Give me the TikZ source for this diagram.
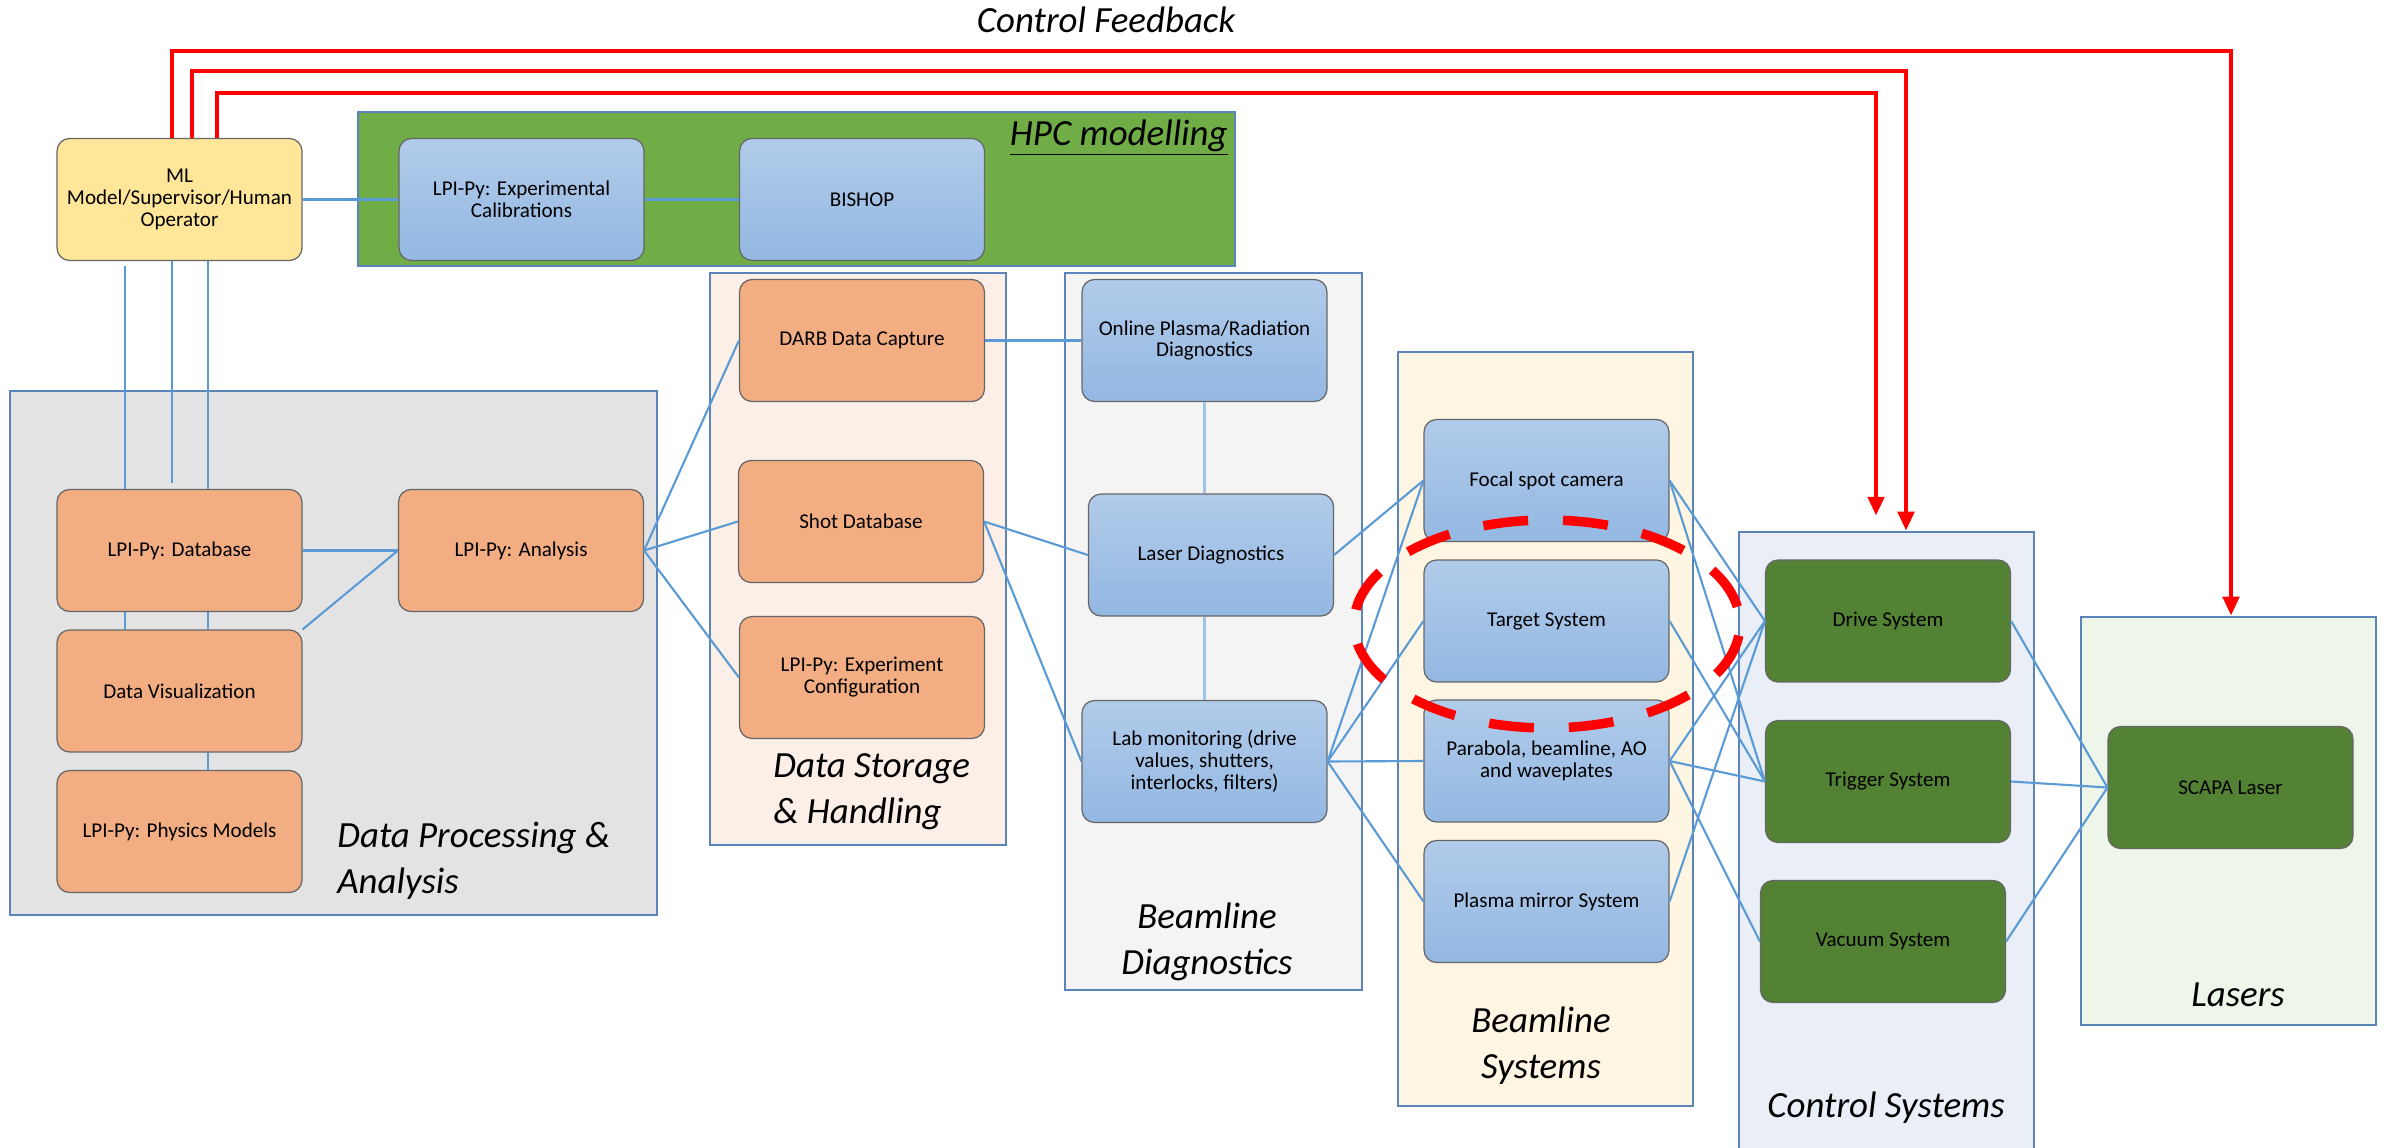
\documentclass[tikz,border=0pt]{standalone}
\usepackage{fontspec}
\setmainfont{Carlito}
\usetikzlibrary{arrows.meta}

\definecolor{linkblue}{HTML}{5B9BD5}
\definecolor{linklight}{HTML}{9DC3E6}
\definecolor{groupline}{HTML}{5A84BA}
\definecolor{fbred}{HTML}{FF0000}
\definecolor{bluetop}{HTML}{B1CBEA}
\definecolor{bluebot}{HTML}{93B8E2}
\definecolor{orangebox}{HTML}{F2AE82}
\definecolor{greenbox}{HTML}{548235}
\definecolor{yellowbox}{HTML}{FFE699}
\definecolor{hpcgreen}{HTML}{70AD47}
\definecolor{dpafill}{HTML}{E3E3E3}
\definecolor{dshfill}{HTML}{FBEFE8}
\definecolor{bdiagfill}{HTML}{F4F4F4}
\definecolor{bsysfill}{HTML}{FEF5E3}
\definecolor{ctrlfill}{HTML}{E9EEF7}
\definecolor{laserfill}{HTML}{EEF5E9}

\tikzset{%
  unit/.style={
    rectangle,
    rounded corners=0.25cm,
    draw=black!60,
    line width=0.7pt,
    minimum width=4.9cm,
    minimum height=2.44cm,
    inner sep=2pt,
    align=center,
    font=\fontsize{12}{12.5}\selectfont
  },
  unit blue/.style={unit, top color=bluetop, bottom color=bluebot},
  unit orange/.style={unit, fill=orangebox},
  unit green/.style={unit, fill=greenbox},
  group/.style={
    rectangle,
    draw=groupline,
    line width=1.5pt,
    inner sep=0pt
  },
  group label/.style={
    inner sep=0pt,
    font=\fontsize{21}{26}\selectfont\itshape
  },
  link/.style={draw=linkblue, line width=1.2pt},
  link light/.style={draw=linklight, line width=1.2pt},
  feedback/.style={
    draw=fbred,
    line width=2.8pt,
    -{Triangle[length=0.38cm,width=0.32cm]}
  },
  ring/.style={
    draw=fbred,
    line width=5.4pt,
    dash pattern=on 0.9cm off 0.7cm,
    dash phase=1.25cm
  },
}

\begin{document}
\begin{tikzpicture}[x=0.02cm,y=-0.02cm]
\useasboundingbox (0,0) rectangle (2395,1148);

% groups
\node[group, fill=hpcgreen, minimum width=17.54cm, minimum height=3.08cm] (hpc) at (796.5,189) {};
\node[group, fill=dpafill, minimum width=12.94cm, minimum height=10.48cm] (dpa) at (333.5,653) {};
\node[group, fill=dshfill, minimum width=5.92cm, minimum height=11.44cm] (dsh) at (858,559) {};
\node[group, fill=bdiagfill, minimum width=5.94cm, minimum height=14.34cm] (bdiag) at (1213.5,631.5) {};
\node[group, fill=bsysfill, minimum width=5.9cm, minimum height=15.08cm] (bsys) at (1545.5,729) {};
\node[group, fill=ctrlfill, minimum width=5.9cm, minimum height=12.4cm] (ctrl) at (1886.5,842) {};
\node[group, fill=laserfill, minimum width=5.9cm, minimum height=8.16cm] (lasers) at (2228.5,821) {};

\node[group label, anchor=base] (fblabel) at (1106,33) {Control Feedback};
\node[group label, anchor=base east] (hpclabel) at (1228,146) {\underline{HPC modelling}};
\node[group label, anchor=base west, align=left] (dpalabel) at (337,893) {Data Processing \&\\Analysis};
\node[group label, anchor=base west, align=left] (dshlabel) at (773,823) {Data Storage\\\& Handling};
\node[group label, anchor=base, align=center] (bdiaglabel) at (1207,974) {Beamline\\Diagnostics};
\node[group label, anchor=base, align=center] (bsyslabel) at (1541,1078) {Beamline\\Systems};
\node[group label, anchor=base] (ctrllabel) at (1886,1117) {Control Systems};
\node[group label, anchor=base] (laserslabel) at (2238,1006) {Lasers};

% units
\node[unit, fill=yellowbox] (ml) at (179.5,199.5) {ML\\Model/Supervisor/Human\\Operator};
\node[unit blue] (calib) at (521.5,199.5) {LPI-Py: Experimental\\Calibrations};
\node[unit blue] (bishop) at (862,199.5) {BISHOP};

\node[unit orange] (lpidb) at (179.5,550.5) {LPI-Py: Database};
\node[unit orange] (datavis) at (179.5,691) {Data Visualization};
\node[unit orange] (physmod) at (179.5,831.5) {LPI-Py: Physics Models};
\node[unit orange] (analysis) at (521,550.5) {LPI-Py: Analysis};

\node[unit orange] (darb) at (862,340.5) {DARB Data Capture};
\node[unit orange] (shotdb) at (861,521.5) {Shot Database};
\node[unit orange] (expconf) at (862,677.5) {LPI-Py: Experiment\\Configuration};

\node[unit blue] (online) at (1204.5,340.5) {Online Plasma/Radiation\\Diagnostics};
\node[unit blue] (laserdiag) at (1211,555) {Laser Diagnostics};
\node[unit blue] (labmon) at (1204.5,761.5) {Lab monitoring (drive\\values, shutters,\\interlocks, filters)};

\node[unit blue] (focal) at (1546.5,480.5) {Focal spot camera};
\node[unit blue] (target) at (1546.5,621) {Target System};
\node[unit blue] (parabola) at (1546.5,761) {Parabola, beamline, AO\\and waveplates};
\node[unit blue] (plasmamirror) at (1546.5,901.5) {Plasma mirror System};

\node[unit green] (drive) at (1888,621) {Drive System};
\node[unit green] (trigger) at (1888,781.5) {Trigger System};
\node[unit green] (vacuum) at (1883,941.5) {Vacuum System};

\node[unit green] (scapa) at (2230.5,787.5) {SCAPA Laser};

% links
\draw[link] (ml.east) -- (calib.west);
\draw[link] (calib.east) -- (bishop.west);
\draw[link] ([xshift=-1.09cm,yshift=-0.1cm]ml.south) -- ([xshift=-1.09cm]lpidb.north);
\draw[link] ([xshift=-0.15cm]ml.south) -- ([xshift=-0.15cm,yshift=0.12cm]lpidb.north);
\draw[link] ([xshift=0.57cm]ml.south) -- ([xshift=0.57cm]lpidb.north);

\draw[link] (lpidb.east) -- (analysis.west);
\draw[link] (datavis.north east) -- (analysis.west);
\draw[link] ([xshift=-1.09cm]lpidb.south) -- ([xshift=-1.09cm]datavis.north);
\draw[link] ([xshift=0.57cm]lpidb.south) -- ([xshift=0.57cm]datavis.north);
\draw[link] ([xshift=0.57cm]datavis.south) -- ([xshift=0.57cm]physmod.north);

\draw[link] (analysis.east) -- (darb.west);
\draw[link] (analysis.east) -- (shotdb.west);
\draw[link] (analysis.east) -- (expconf.west);

\draw[link] (darb.east) -- (online.west);
\draw[link] (shotdb.east) -- (laserdiag.west);
\draw[link] (shotdb.east) -- (labmon.west);
\draw[link light] (online.south) -- (online.south |- laserdiag.north);
\draw[link light] (labmon.north |- laserdiag.south) -- (labmon.north);

\draw[link] (laserdiag.east) -- (focal.west);
\draw[link] (labmon.east) -- (focal.west);
\draw[link] (labmon.east) -- (target.west);
\draw[link] (labmon.east) -- (parabola.west);
\draw[link] (labmon.east) -- (plasmamirror.west);

\draw[link] (focal.east) -- (drive.west);
\draw[link] (focal.east) -- (trigger.west);
\draw[link] (target.east) -- (trigger.west);
\draw[link] (parabola.east) -- (drive.west);
\draw[link] (parabola.east) -- (trigger.west);
\draw[link] (parabola.east) -- (vacuum.west);
\draw[link] (plasmamirror.east) -- (drive.west);

\draw[link] (drive.east) -- (scapa.west);
\draw[link] (trigger.east) -- (scapa.west);
\draw[link] (vacuum.east) -- (scapa.west);

% control feedback
\coordinate (fbtop) at (0,51);
\coordinate (fbmid) at (0,71);
\coordinate (fblow) at (0,93);
\draw[feedback] ([xshift=-0.15cm]ml.north) |- ([xshift=0.05cm]lasers.north |- fbtop) -- ([xshift=0.05cm]lasers.north);
\draw[feedback] ([xshift=0.25cm]ml.north) |- ([xshift=0.39cm]ctrl.north |- fbmid) -- ([xshift=0.39cm]ctrl.north);
\draw[feedback] ([xshift=0.75cm]ml.north) |- ([xshift=-0.21cm]ctrl.north |- fblow) -- ([xshift=-0.21cm,yshift=0.3cm]ctrl.north);

\draw[ring] (1547,624) ellipse [x radius=3.86cm, y radius=2.08cm];
\end{tikzpicture}
\end{document}
